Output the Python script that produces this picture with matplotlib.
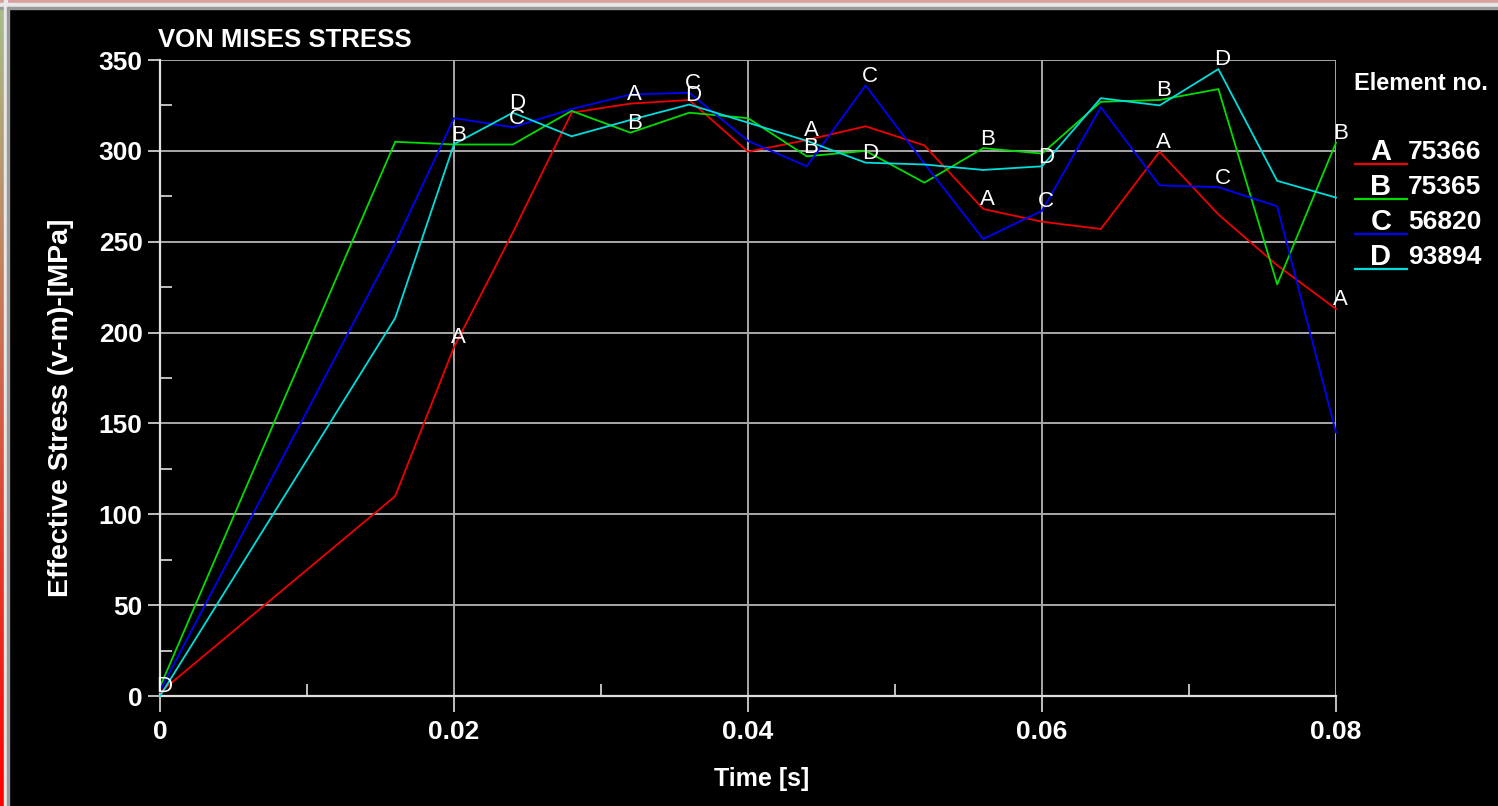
import matplotlib
matplotlib.use("Agg")
import matplotlib.pyplot as plt
from matplotlib import font_manager
from matplotlib.patches import Rectangle
from matplotlib.lines import Line2D
from matplotlib.ticker import MultipleLocator
import numpy as np

# ---------------- data ----------------
time_s = [0.0, 0.016, 0.020, 0.024, 0.028, 0.032, 0.036, 0.040, 0.044,
          0.048, 0.052, 0.056, 0.060, 0.064, 0.068, 0.072, 0.076, 0.080]
stress_A = [2, 110, 192, 255, 321, 326, 328, 299.5, 306, 313.5, 303, 268,
            261, 257, 299.5, 265, 237, 213]
stress_B = [5, 305, 303.5, 303.5, 322, 310, 321, 318, 297, 300, 282.5, 301.5,
            298.5, 327, 328, 334, 226.5, 304.5]
stress_C = [3, 249, 318, 313, 323, 331, 332, 305.5, 291.5, 336, 293, 251.5,
            267, 324, 281, 280, 269.5, 145]
stress_D = [0, 208, 303.7, 321, 308, 317, 325.5, 315.5, 305.5, 293.5, 292.5,
            289.5, 291.5, 329, 325, 345, 283.5, 274.3]
series_letters = ["A", "B", "C", "D"]
element_numbers = ["75366", "75365", "56820", "93894"]
label_times = {
    "A": [0.020, 0.032, 0.044, 0.056, 0.068, 0.080],
    "B": [0.020, 0.032, 0.044, 0.056, 0.068, 0.080],
    "C": [0.024, 0.036, 0.048, 0.060, 0.072],
    "D": [0.0, 0.024, 0.036, 0.048, 0.060, 0.072],
}
x_ticks = [0.0, 0.02, 0.04, 0.06, 0.08]
x_tick_labels = ["0", "0.02", "0.04", "0.06", "0.08"]
title = "VON MISES STRESS"
xlabel = "Time [s]"
ylabel = "Effective Stress (v-m)-[MPa]"
legend_title = "Element no."

# ---------------- fonts ----------------
names = {f.name for f in font_manager.fontManager.ttflist}
if "Liberation Sans Narrow" in names:
    FAM = ["Liberation Sans Narrow", "DejaVu Sans"]
else:
    FAM = ["Liberation Sans", "DejaVu Sans"]
plt.rcParams["font.family"] = FAM

colors = ["#f00000", "#00dd00", "#0000ff", "#00dddd"]
series = [stress_A, stress_B, stress_C, stress_D]

W, H = 1498, 806
fig = plt.figure(figsize=(W / 100, H / 100), dpi=100, facecolor="black")


def px_rect(x0, y0, w, h, color):
    fig.patches.append(Rectangle((x0 / W, 1 - (y0 + h) / H), w / W, h / H,
                                 transform=fig.transFigure, color=color,
                                 zorder=0))


# window frame decorations
px_rect(0, 0, W, 3, "#d9a0a0")
px_rect(0, 3, W, 3, "#e8e8e8")
px_rect(0, 7, W, 2, "#9a9a9a")
px_rect(4, 0, 3, H, "#e8e8e8")
px_rect(7, 7, 2, H - 7, "#9a9a9a")
grad = np.linspace(0, 1, 200)[:, None]
ax_strip = fig.add_axes([0, 0, 4 / W, 1])
ax_strip.imshow(np.dstack([np.ones_like(grad) * 1.0 - 0.35 * (1 - grad),
                           0.75 * (1 - grad) + 0.0 * grad,
                           0.55 * (1 - grad)]),
                aspect="auto", extent=[0, 1, 0, 1])
ax_strip.axis("off")

ax = fig.add_axes([160 / W, (H - 696) / H, 1176 / W, (696 - 60) / H])
ax.set_facecolor("black")

for y, c in zip(series, colors):
    ax.plot(time_s, y, color=c, lw=1.3, zorder=3, clip_on=False)

for letter, y in zip(series_letters, series):
    for t in label_times[letter]:
        v = y[time_s.index(t)]
        ax.annotate(letter, (t, v), xytext=(3, -1), textcoords="offset points",
                    ha="center", va="bottom", color="white", fontsize=16,
                    zorder=5, annotation_clip=False)

ax.set_xlim(0, 0.08)
ax.set_ylim(0, 350)
ax.set_xticks(x_ticks)
ax.set_xticklabels(x_tick_labels)
ax.xaxis.set_minor_locator(MultipleLocator(0.01))
ax.yaxis.set_major_locator(MultipleLocator(50))
ax.yaxis.set_minor_locator(MultipleLocator(25))
ax.grid(True, which="major", color="#a8a8a8", lw=1.4, zorder=1)

for s in ["top", "right"]:
    ax.spines[s].set_visible(False)
for s in ["left", "bottom"]:
    ax.spines[s].set_color("#e0e0e0")
    ax.spines[s].set_linewidth(1.6)

ax.tick_params(axis="x", which="major", direction="out", length=11.5,
               width=1.2, color="#e0e0e0", pad=6, labelsize=19,
               labelcolor="white")
ax.tick_params(axis="y", which="major", direction="out", length=8.5,
               width=1.2, color="#e0e0e0", pad=4, labelsize=19,
               labelcolor="white")
ax.tick_params(which="minor", direction="in", length=8.5, width=1.2,
               color="#e0e0e0")
for lab in ax.get_xticklabels() + ax.get_yticklabels():
    lab.set_fontweight("bold")

fig.text(158 / W, 1 - 40 / H, title, color="white", fontsize=18.5,
         fontweight="bold", ha="left", va="center")
fig.text(762 / W, 1 - 779 / H, xlabel, color="white", fontsize=18,
         fontweight="bold", ha="center", va="center")
fig.text(61 / W, 1 - 408 / H, ylabel, color="white", fontsize=20.5,
         fontweight="bold", ha="center", va="center", rotation=90)

# legend drawn manually
fig.text(1354 / W, 1 - 84 / H, legend_title, color="white", fontsize=17,
         fontweight="bold", ha="left", va="center")
for i, (letter, num, c) in enumerate(zip(series_letters, element_numbers,
                                         colors)):
    yc = 152 + 35 * i
    fig.text(1381 / W, 1 - yc / H, letter, color="white", fontsize=21,
             fontweight="bold", ha="center", va="center")
    fig.text(1408 / W, 1 - yc / H, num, color="white", fontsize=19,
             fontweight="bold", ha="left", va="center")
    fig.add_artist(Line2D([1355 / W, 1407 / W],
                          [1 - (yc + 12) / H, 1 - (yc + 12) / H],
                          color=c, lw=1.6, transform=fig.transFigure))

fig.savefig("out.png", dpi=100, facecolor="black")
